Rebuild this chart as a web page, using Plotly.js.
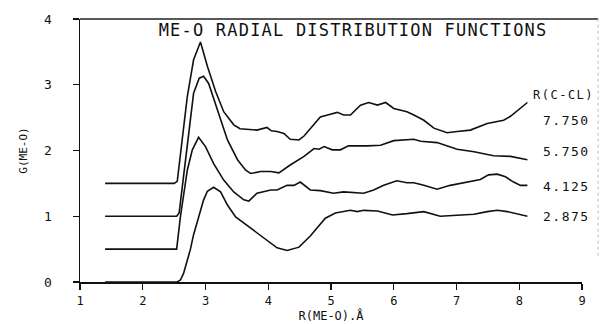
<!DOCTYPE html>
<html>
<head>
<meta charset="utf-8">
<script src="https://cdn.plot.ly/plotly-3.0.1.min.js"></script>
<style>
  html, body { margin: 0; padding: 0; background: #fff; }
  #chart { width: 601px; height: 324px; }
  .gtitle { letter-spacing: 1.2px; }
  .annotation-text { letter-spacing: 1.5px; }
</style>
</head>
<body>
<div id="chart"></div>
<script>
// Series labels (R(C-CL) values)
const seriesLabels = ['7.750', '5.750', '4.125', '2.875'];
const legendHeader = 'R(C-CL)';

// R(ME-O) in Å and G(ME-O) (vertically offset curves as plotted)
const r7750 = [1.4, 2.5, 2.55, 2.6, 2.71, 2.81, 2.92, 3.03, 3.16, 3.29, 3.45, 3.55, 3.66, 3.82, 3.98, 4.05, 4.14, 4.25, 4.35, 4.49, 4.57, 4.70, 4.83, 4.99, 5.10, 5.20, 5.31, 5.47, 5.60, 5.74, 5.87, 6.00, 6.21, 6.32, 6.48, 6.64, 6.85, 7.01, 7.22, 7.49, 7.75, 7.86, 8.02, 8.13];
const g7750 = [1.5, 1.5, 1.53, 1.91, 2.82, 3.38, 3.65, 3.28, 2.90, 2.59, 2.39, 2.33, 2.32, 2.31, 2.35, 2.30, 2.29, 2.26, 2.17, 2.16, 2.22, 2.36, 2.51, 2.55, 2.58, 2.54, 2.54, 2.69, 2.73, 2.69, 2.73, 2.64, 2.59, 2.54, 2.46, 2.34, 2.27, 2.29, 2.31, 2.41, 2.46, 2.52, 2.64, 2.73];

const r5750 = [1.4, 2.54, 2.58, 2.63, 2.73, 2.81, 2.90, 2.97, 3.05, 3.19, 3.35, 3.51, 3.64, 3.72, 3.88, 4.04, 4.17, 4.35, 4.57, 4.73, 4.81, 4.89, 5.02, 5.15, 5.28, 5.58, 5.79, 6.00, 6.21, 6.32, 6.43, 6.69, 7.01, 7.28, 7.59, 7.86, 8.13];
const g5750 = [1.0, 1.0, 1.05, 1.45, 2.31, 2.87, 3.10, 3.13, 3.02, 2.62, 2.16, 1.86, 1.70, 1.65, 1.68, 1.68, 1.66, 1.78, 1.91, 2.03, 2.02, 2.06, 2.01, 2.01, 2.07, 2.07, 2.08, 2.15, 2.16, 2.17, 2.14, 2.12, 2.02, 1.98, 1.92, 1.91, 1.86];

const r4125 = [1.4, 2.54, 2.60, 2.71, 2.79, 2.89, 3.00, 3.13, 3.29, 3.45, 3.61, 3.69, 3.82, 4.04, 4.14, 4.30, 4.41, 4.51, 4.67, 4.83, 5.04, 5.20, 5.52, 5.68, 5.84, 6.05, 6.21, 6.32, 6.48, 6.69, 6.90, 7.17, 7.38, 7.51, 7.65, 7.78, 7.91, 8.02, 8.13];
const g4125 = [0.5, 0.5, 0.99, 1.70, 2.01, 2.20, 2.06, 1.80, 1.55, 1.37, 1.25, 1.23, 1.35, 1.40, 1.40, 1.47, 1.47, 1.52, 1.40, 1.39, 1.35, 1.37, 1.35, 1.40, 1.47, 1.54, 1.51, 1.51, 1.47, 1.41, 1.47, 1.52, 1.56, 1.63, 1.64, 1.60, 1.52, 1.47, 1.47];

const r2875 = [1.4, 2.55, 2.6, 2.65, 2.71, 2.76, 2.81, 2.87, 2.92, 2.97, 3.03, 3.13, 3.24, 3.35, 3.48, 3.72, 3.93, 4.14, 4.30, 4.49, 4.67, 4.91, 5.07, 5.31, 5.42, 5.52, 5.74, 5.98, 6.21, 6.48, 6.74, 7.01, 7.28, 7.49, 7.65, 7.81, 7.97, 8.13];
const g2875 = [0.0, 0.0, 0.03, 0.13, 0.33, 0.50, 0.72, 0.92, 1.10, 1.25, 1.38, 1.44, 1.37, 1.17, 0.99, 0.82, 0.67, 0.52, 0.48, 0.53, 0.70, 0.97, 1.05, 1.09, 1.07, 1.09, 1.08, 1.02, 1.04, 1.07, 1.00, 1.02, 1.03, 1.07, 1.09, 1.07, 1.03, 1.00];

// Label anchor points (data coordinates)
const labelX = 8.75;
const labelY = [2.46, 1.99, 1.46, 0.99];
const headerY = 2.85;

const xTicks = [1, 2, 3, 4, 5, 6, 7, 8, 9];
const yTicks = [0, 1, 2, 3, 4];

const FONT = '"DejaVu Sans Mono", monospace';
const xs = [r7750, r5750, r4125, r2875];
const ys = [g7750, g5750, g4125, g2875];

const traces = xs.map((x, i) => ({
  x: x, y: ys[i], type: 'scatter', mode: 'lines', name: seriesLabels[i],
  line: { color: '#111', width: 1.6, shape: 'linear' },
  hoverinfo: 'skip'
}));

const annotations = seriesLabels.map((t, i) => ({
  x: labelX, y: labelY[i], xref: 'x', yref: 'y', text: t, showarrow: false,
  xanchor: 'center', yanchor: 'middle', font: { family: FONT, size: 13, color: '#111' }
}));
annotations.push({
  x: 8.71, y: headerY, xref: 'x', yref: 'y', text: legendHeader, showarrow: false,
  xanchor: 'center', yanchor: 'middle', font: { family: FONT, size: 12, color: '#111' }
});

const layout = {
  width: 601, height: 324,
  margin: { l: 80, r: 19, t: 19, b: 42, pad: 0 },
  paper_bgcolor: '#fff', plot_bgcolor: '#fff',
  showlegend: false,
  font: { family: FONT, color: '#111', size: 12 },
  title: {
    text: 'ME-O RADIAL DISTRIBUTION FUNCTIONS',
    x: 0.544, xref: 'paper', xanchor: 'center',
    y: 0.958, yref: 'paper', yanchor: 'middle',
    font: { family: FONT, size: 17, color: '#111' }
  },
  xaxis: {
    range: [1, 9], tickvals: xTicks, ticktext: xTicks.map(String),
    ticks: 'outside', ticklen: 6, tickwidth: 1.3, tickcolor: '#111',
    showline: true, linecolor: '#111', linewidth: 1.5,
    showgrid: false, zeroline: false, ticklabelstandoff: 1,
    tickfont: { family: FONT, size: 12, color: '#111' },
    title: { text: 'R(ME-O).Å', font: { family: FONT, size: 12, color: '#111' }, standoff: 0 },
    automargin: false, fixedrange: true
  },
  yaxis: {
    range: [0, 4], tickvals: yTicks, ticktext: yTicks.map(String),
    ticks: 'outside', ticklen: 6, tickwidth: 1.3, tickcolor: '#111',
    showline: true, linecolor: '#111', linewidth: 1.5,
    showgrid: false, zeroline: false, ticklabelstandoff: 18,
    tickfont: { family: FONT, size: 13, color: '#111' },
    title: { text: 'G(ME-O)', font: { family: FONT, size: 11, color: '#111' }, standoff: 14 },
    automargin: false, fixedrange: true
  },
  shapes: [
    { type: 'line', xref: 'paper', yref: 'paper', x0: 0, x1: 1.032, y0: 1, y1: 1,
      line: { color: '#222', width: 1.3 } },
    { type: 'line', xref: 'paper', yref: 'paper', x0: 1.032, x1: 1.032, y0: 0.1, y1: 1,
      line: { color: '#bbb', width: 1, dash: 'dot' } }
  ],
  annotations: annotations
};

Plotly.newPlot('chart', traces, layout, { staticPlot: true, displayModeBar: false });
</script>
</body>
</html>
